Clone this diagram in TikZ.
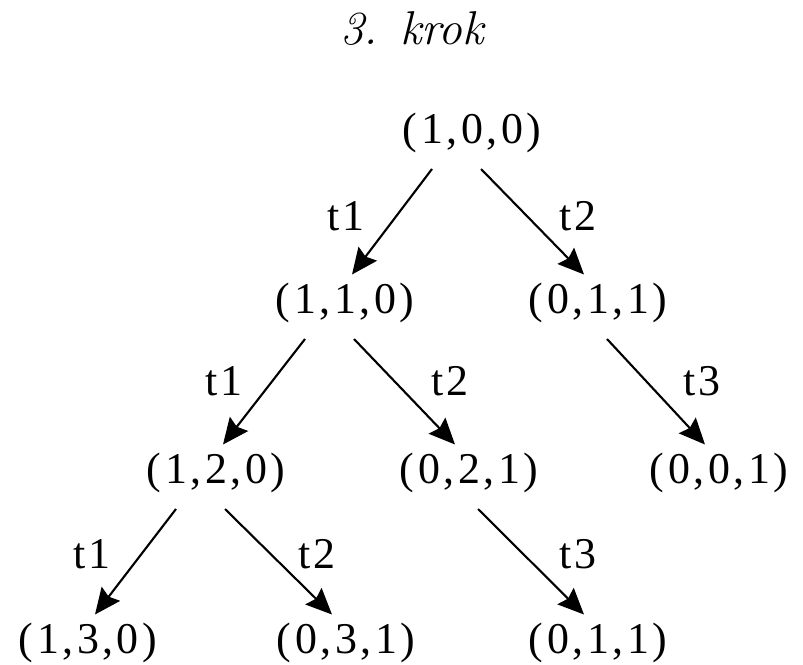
\documentclass[tikz,border=0pt]{standalone}
\usepackage{fontspec}
\newfontfamily\tnr[LetterSpace=8]{Liberation Serif}
\usetikzlibrary{arrows.meta}

\begin{document}
\begin{tikzpicture}[every node/.style={font=\tnr\fontsize{25}{29}\selectfont,inner sep=0pt,anchor=base},
  arc/.style={line width=1.2pt,-{Stealth[length=0.52cm,width=0.46cm,inset=0.07cm]}}]
\useasboundingbox (0,0) rectangle (16.06,-13.28);
\node[font=\fontsize{27}{32}\selectfont\itshape] (title) at (8.24,-0.9) {3. krok};
% states
\node (s100) at (9.44,-2.86) {(1,0,0)};
\node (s110) at (6.90,-6.26) {(1,1,0)};
\node (s011) at (11.96,-6.26) {(0,1,1)};
\node (s120) at (4.32,-9.66) {(1,2,0)};
\node (s021) at (9.38,-9.66) {(0,2,1)};
\node (s001) at (14.38,-9.66) {(0,0,1)};
\node (s130) at (1.76,-13.06) {(1,3,0)};
\node (s031) at (6.92,-13.06) {(0,3,1)};
\node (s011b) at (11.96,-13.06) {(0,1,1)};
% transitions
\draw[arc] ([shift={(-0.8,-0.52)}]s100.base) -- ([shift={(0.14,0.77)}]s110.base);
\draw[arc] ([shift={(0.18,-0.52)}]s100.base) -- ([shift={(-0.28,0.77)}]s011.base);
\draw[arc] ([shift={(-0.8,-0.52)}]s110.base) -- ([shift={(0.14,0.77)}]s120.base);
\draw[arc] ([shift={(0.18,-0.52)}]s110.base) -- ([shift={(-0.28,0.77)}]s021.base);
\draw[arc] ([shift={(0.18,-0.52)}]s011.base) -- ([shift={(-0.28,0.77)}]s001.base);
\draw[arc] ([shift={(-0.8,-0.52)}]s120.base) -- ([shift={(0.14,0.77)}]s130.base);
\draw[arc] ([shift={(0.18,-0.52)}]s120.base) -- ([shift={(-0.28,0.77)}]s031.base);
\draw[arc] ([shift={(0.18,-0.52)}]s021.base) -- ([shift={(-0.28,0.77)}]s011b.base);
\node (l1) at (6.92,-4.6) {t1};
\node (l2) at (11.56,-4.6) {t2};
\node (l3) at (4.48,-7.9) {t1};
\node (l4) at (9.00,-7.9) {t2};
\node (l5) at (14.04,-7.9) {t3};
\node (l6) at (1.84,-11.36) {t1};
\node (l7) at (6.34,-11.36) {t2};
\node (l8) at (11.56,-11.36) {t3};
\end{tikzpicture}
\end{document}
